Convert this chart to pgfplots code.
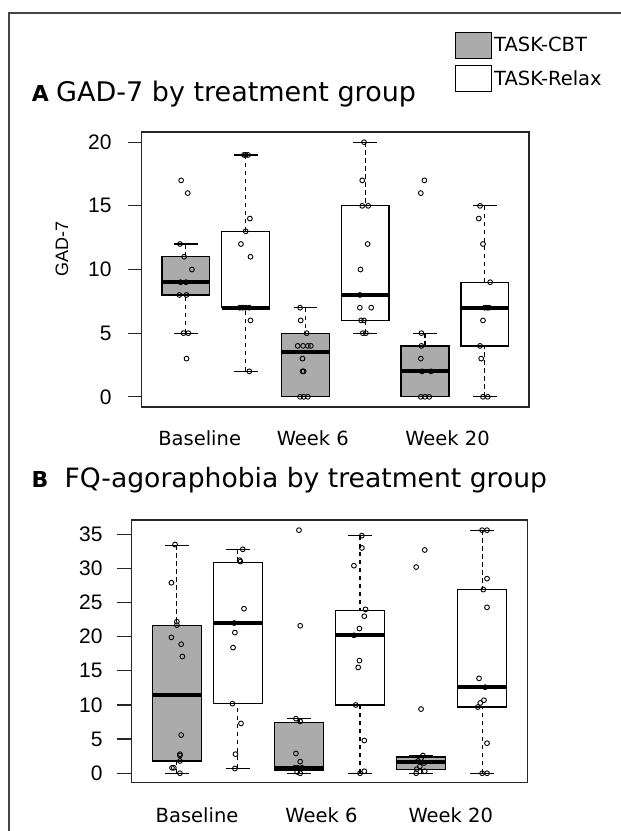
\documentclass[border=0pt]{standalone}
\usepackage{fontspec}
\setmainfont{DejaVu Sans}
\newfontfamily\labfont{Liberation Sans}
\usepackage{pgfplots}
\pgfplotsset{compat=1.18}
\usepgfplotslibrary{statistics}

\definecolor{cbtgray}{RGB}{171,171,171}
\definecolor{framegray}{RGB}{70,70,70}
\tikzset{rdash/.style={line width=1.1pt, dash pattern=on 4.5pt off 3.5pt}}

% R-style whiskers: dashed stem, solid staple
\pgfplotsset{
  boxplot/draw/lower whisker/.code={%
    \draw[rdash] (boxplot cs:\pgfplotsboxplotvalue{lower whisker}) -- (boxplot cs:\pgfplotsboxplotvalue{lower quartile});
    \draw[solid, line width=1.3pt] (boxplot whisker cs:\pgfplotsboxplotvalue{lower whisker},0) -- (boxplot whisker cs:\pgfplotsboxplotvalue{lower whisker},1);
  },
  boxplot/draw/upper whisker/.code={%
    \draw[rdash] (boxplot cs:\pgfplotsboxplotvalue{upper whisker}) -- (boxplot cs:\pgfplotsboxplotvalue{upper quartile});
    \draw[solid, line width=1.3pt] (boxplot whisker cs:\pgfplotsboxplotvalue{upper whisker},0) -- (boxplot whisker cs:\pgfplotsboxplotvalue{upper whisker},1);
  },
  rleg/.style={legend image code/.code={\draw[draw=black, line width=1.3pt, fill=#1] (0pt,-12.8pt) rectangle (35.7pt,12.8pt);}},
  rpanel/.style={
    anchor=south west, scale only axis,
    xmin=0.26, xmax=6.74,
    xtick style={draw=none},
    ytick pos=left, tick align=outside,
    axis line style={line width=1.4pt, black!85},
    ytick style={line width=1.3pt, black!85},
    /pgf/number format/assume math mode=true,
    xticklabel style={font=\fontsize{19.5}{20}\selectfont, anchor=base, yshift=-25pt},
    yticklabel style={font=\labfont\fontsize{21}{21}\selectfont, anchor=east, inner sep=0pt},
    boxplot/draw direction=y,
    boxplot/box extend=0.8,
    boxplot/whisker extend=0.4,
    boxplot/every median/.style={line width=4pt},
    clip=false,
  },
  cbt/.style={forget plot, black, line width=1.3pt, boxplot/every box/.style={draw=black, fill=cbtgray}},
  relax/.style={forget plot, black, line width=1.3pt, boxplot/every box/.style={draw=black, fill=white}},
  pts/.style={forget plot, only marks, mark=o, mark size=2.4pt, line width=0.9pt, black},
}

\begin{document}
\begin{tikzpicture}
\useasboundingbox (0pt,0pt) rectangle (621pt,831pt);
\draw[framegray, line width=2pt] (8.5pt,0pt) -- (8.5pt,818pt) -- (622pt,818pt);

\node[anchor=base west, inner sep=0pt] at (31.7pt,729.3pt) {\bfseries\fontsize{22}{22}\selectfont A};
\node[anchor=base west, inner sep=0pt] at (56pt,729.3pt) {\fontsize{27}{27}\selectfont GAD-7 by treatment group};
\node[anchor=base west, inner sep=0pt] at (31.4pt,343.5pt) {\bfseries\fontsize{22}{22}\selectfont B};
\node[anchor=base west, inner sep=0pt] at (64.3pt,343.5pt) {\fontsize{26.6}{27}\selectfont FQ-agoraphobia by treatment group};

% ---------------- panel A
\begin{axis}[rpanel,
  at={(141.7pt,424pt)}, width=387.3pt, height=275pt,
  ymin=-0.8, ymax=20.8,
  xtick={1.230,3.123,5.376}, xticklabels={Baseline,Week 6,Week 20},
  ytick={0,5,10,15,20}, major tick length=14pt,
  yticklabel style={xshift=-16pt},
  ylabel={GAD-7},
  every axis y label/.style={at={(axis description cs:-0.206,0.575)}, rotate=90, anchor=center,
    font=\labfont\fontsize{18}{18}\selectfont},
  legend style={at={(axis description cs:0.8089,1.3647)}, anchor=north west, draw=none, fill=none,
    inner sep=0pt, row sep=6.3pt, font=\fontsize{19.5}{20}\selectfont, cells={anchor=west}},
]
\addplot[cbt, boxplot prepared={draw position=1, lower whisker=5, lower quartile=8, median=9, upper quartile=11, upper whisker=12}] coordinates {};
\addplot[relax, boxplot prepared={draw position=2, lower whisker=2, lower quartile=7, median=7, upper quartile=13, upper whisker=19}] coordinates {};
\addplot[cbt, boxplot prepared={draw position=3, lower whisker=0, lower quartile=0, median=3.5, upper quartile=5, upper whisker=7}] coordinates {};
\addplot[relax, boxplot prepared={draw position=4, lower whisker=5, lower quartile=6, median=8, upper quartile=15, upper whisker=20}] coordinates {};
\addplot[cbt, boxplot prepared={draw position=5, lower whisker=0, lower quartile=0, median=2, upper quartile=4, upper whisker=5}] coordinates {};
\addplot[relax, boxplot prepared={draw position=6, lower whisker=0, lower quartile=4, median=7, upper quartile=9, upper whisker=15}] coordinates {};
% individual scores, jittered
\addplot[pts] coordinates {(0.92,17)(1.03,16)(0.90,12)(0.97,11)(1.10,10)(0.91,9)(1.00,9)(0.89,8)(1.01,8)(0.96,5)(1.04,5)(1.01,3)};
\addplot[pts] coordinates {(1.97,19)(2.00,19)(2.04,19)(2.07,14)(2.00,13)(1.92,12)(2.08,11)(1.90,7)(1.95,7)(2.00,7)(2.06,7)(2.08,6)(2.06,2)};
\addplot[pts] coordinates {(2.91,7)(2.92,6)(3.02,5)(2.87,4)(2.96,4)(3.04,4)(3.09,4)(2.95,3)(2.95,2)(2.97,2)(2.91,0)(2.97,0)(3.04,0)};
\addplot[pts] coordinates {(3.98,20)(3.95,17)(3.95,15)(4.05,15)(4.04,12)(3.92,10)(3.91,8)(3.91,7)(4.10,7)(3.93,6)(3.98,6)(3.96,5)(4.01,5)};
\addplot[pts] coordinates {(4.99,17)(4.93,16)(4.94,5)(4.94,4)(4.93,3)(4.95,2)(5.10,2)(4.93,0)(5.00,0)(5.07,0)};
\addplot[pts] coordinates {(5.92,15)(5.90,14)(5.97,12)(6.09,9)(6.00,7)(6.04,7)(6.07,7)(5.97,6)(5.92,4)(5.94,3)(5.97,0)(6.05,0)};
\addlegendimage{rleg=cbtgray}
\addlegendentry{TASK-CBT}
\addlegendimage{rleg=white}
\addlegendentry{TASK-Relax}
\end{axis}

% ---------------- panel B
\begin{axis}[rpanel,
  at={(131.7pt,48.3pt)}, width=395.6pt, height=262.7pt,
  ymin=-1.38, ymax=37.09,
  xtick={1.330,3.369,5.487}, xticklabels={Baseline,Week 6,Week 20},
  ytick={0,5,...,35}, major tick length=15pt,
  yticklabel style={xshift=-14pt},
]
\addplot[cbt, boxplot prepared={draw position=1, lower whisker=0, lower quartile=1.8, median=11.4, upper quartile=21.6, upper whisker=33.4}] coordinates {};
\addplot[relax, boxplot prepared={draw position=2, lower whisker=0.7, lower quartile=10.25, median=22.0, upper quartile=30.9, upper whisker=32.8}] coordinates {};
\addplot[cbt, boxplot prepared={draw position=3, lower whisker=0, lower quartile=0.4, median=0.8, upper quartile=7.4, upper whisker=8.05}] coordinates {};
\addplot[relax, boxplot prepared={draw position=4, lower whisker=0, lower quartile=10.0, median=20.2, upper quartile=23.8, upper whisker=34.8}] coordinates {};
\addplot[cbt, boxplot prepared={draw position=5, lower whisker=0, lower quartile=0.6, median=1.6, upper quartile=2.4, upper whisker=2.6}] coordinates {};
\addplot[relax, boxplot prepared={draw position=6, lower whisker=0, lower quartile=9.7, median=12.6, upper quartile=26.9, upper whisker=35.6}] coordinates {};
\addplot[pts] coordinates {(0.97,33.5)(0.91,27.9)(1.00,22.2)(1.00,21.7)(0.91,19.9)(1.07,18.9)(1.09,17.1)(1.07,5.6)(1.05,2.8)(1.05,2.6)(1.05,1.8)(0.92,0.8)(0.95,0.8)(1.05,0)};
\addplot[pts] coordinates {(2.08,32.8)(2.03,31.2)(2.04,31.0)(2.10,24.1)(1.94,22.0)(1.95,20.6)(1.92,18.4)(1.91,10.2)(2.05,7.3)(1.96,2.8)(1.95,0.7)};
\addplot[pts] coordinates {(3.00,35.6)(3.02,21.6)(2.95,8.0)(3.02,7.6)(2.95,2.9)(3.02,1.7)(2.93,0.8)(2.98,0.8)(3.05,0.8)(2.97,0.2)(3.02,0)};
\addplot[pts] coordinates {(4.03,34.8)(4.03,33.0)(3.90,30.4)(4.09,24.0)(4.07,23.0)(3.99,21.2)(3.90,20.2)(3.99,16.5)(3.97,15.5)(3.93,10.0)(4.07,4.8)(4.07,0.3)(4.00,0)};
\addplot[pts] coordinates {(5.06,32.7)(4.92,30.2)(5.00,9.4)(5.03,2.6)(5.00,2.2)(4.95,1.8)(5.05,1.5)(4.98,1.0)(4.93,0.6)(5.06,0.3)(4.92,0)};
\addplot[pts] coordinates {(6.00,35.6)(6.08,35.6)(6.08,28.5)(6.02,26.9)(6.08,24.3)(5.95,13.9)(6.05,12.6)(6.03,10.7)(5.97,10.3)(5.93,9.7)(6.08,4.4)(6.00,0)(6.08,0)};
\end{axis}
\end{tikzpicture}
\end{document}
